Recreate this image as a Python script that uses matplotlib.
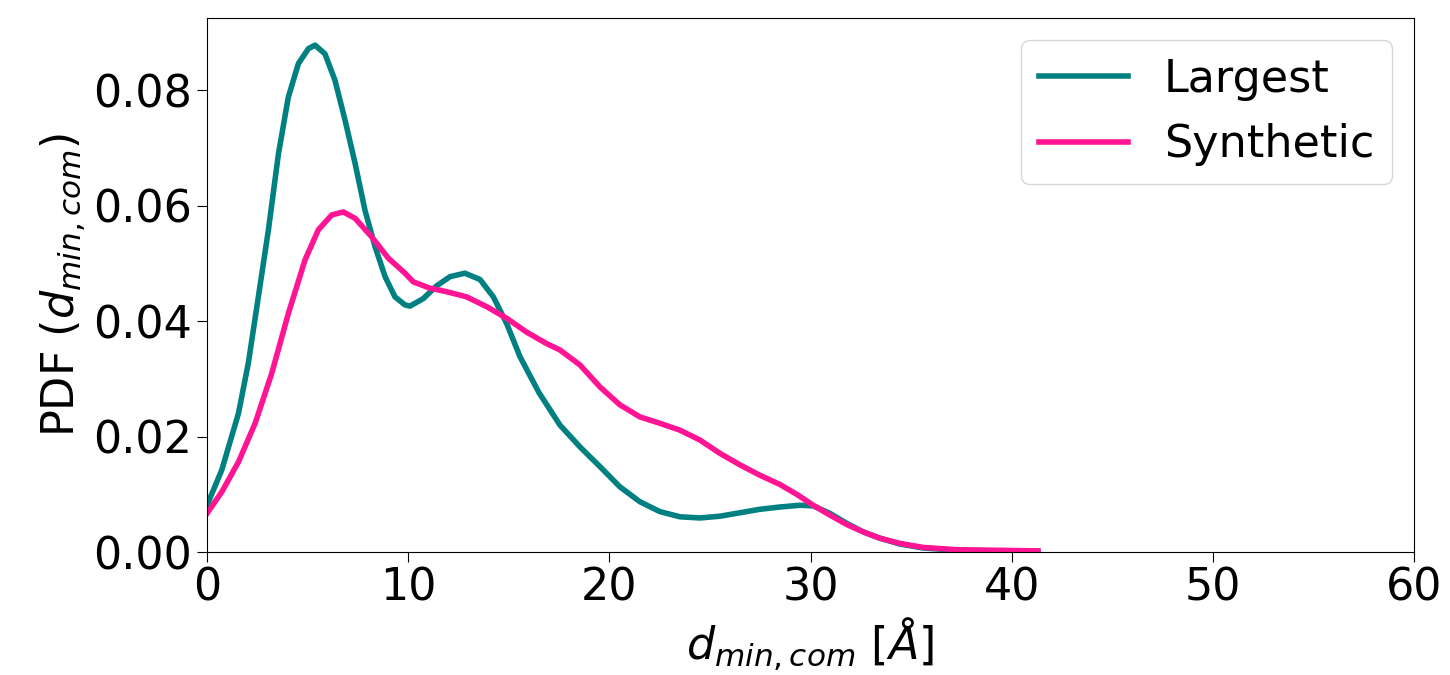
import numpy as np
import matplotlib
matplotlib.use("Agg")
import matplotlib.pyplot as plt

## Values (distance in Angstrom, PDF)
x_largest = [0.0, 0.73, 1.56, 2.05, 2.55, 3.05, 3.55, 4.04, 4.54, 5.04, 5.37, 5.86, 6.36,
             6.86, 7.36, 7.85, 8.35, 8.85, 9.34, 9.84, 10.09, 10.75, 11.41, 12.08, 12.82,
             13.57, 14.23, 14.89, 15.56, 16.5, 17.54, 18.54, 19.53, 20.52, 21.52, 22.51,
             23.51, 24.5, 25.49, 26.49, 27.48, 28.48, 29.47, 30.13, 30.96, 31.78, 32.61,
             33.44, 34.43, 35.59, 37.25, 39.2, 41.3]
y_largest = [0.0081, 0.0142, 0.0240, 0.0327, 0.0442, 0.0558, 0.0690, 0.0788, 0.0846,
             0.0872, 0.0878, 0.0863, 0.0817, 0.0748, 0.0673, 0.0592, 0.0529, 0.0477,
             0.0442, 0.0428, 0.0426, 0.0439, 0.0461, 0.0477, 0.0483, 0.0472, 0.0442,
             0.0396, 0.0338, 0.0276, 0.0220, 0.0182, 0.0148, 0.0113, 0.0087, 0.0070,
             0.0061, 0.0059, 0.0062, 0.0068, 0.0074, 0.0078, 0.0081, 0.0080, 0.0067,
             0.0050, 0.0035, 0.0024, 0.0014, 0.0007, 0.0003, 0.0002, 0.0001]

x_synth = [0.0, 0.73, 1.56, 2.39, 3.21, 4.04, 4.87, 5.53, 6.2, 6.78, 7.36, 8.18, 9.01,
           9.84, 10.25, 11.08, 11.9, 12.9, 13.9, 14.89, 15.88, 16.88, 17.54, 18.54,
           19.53, 20.52, 21.52, 22.51, 23.51, 24.5, 25.49, 26.49, 27.48, 28.48, 29.31,
           30.13, 30.96, 31.78, 32.61, 33.44, 34.43, 35.59, 37.25, 39.2, 41.3]
y_synth = [0.0067, 0.0104, 0.0156, 0.0223, 0.0309, 0.0413, 0.0506, 0.0558, 0.0584,
           0.0589, 0.0578, 0.0546, 0.0509, 0.0483, 0.0468, 0.0457, 0.0451, 0.0442,
           0.0425, 0.0405, 0.0381, 0.0361, 0.0350, 0.0324, 0.0286, 0.0255, 0.0234,
           0.0223, 0.0211, 0.0194, 0.0171, 0.0151, 0.0133, 0.0117, 0.0100, 0.0081,
           0.0064, 0.0048, 0.0035, 0.0024, 0.0015, 0.0008, 0.0004, 0.0003, 0.0002]

labels = ["Largest", "Synthetic"]
colors = ["#008080", "#ff1493"]

## Figure
fig, ax = plt.subplots(figsize=(14.5, 6.75), dpi=100)
fig.subplots_adjust(left=0.1428, right=0.9752, top=0.9733, bottom=0.1822)

for xs, ys, c, lab in zip([x_largest, x_synth], [y_largest, y_synth], colors, labels):
    ax.plot(xs, ys, color=c, lw=4, label=lab, solid_joinstyle="round")

ax.set_xlim(0, 60)
ax.set_ylim(0, 0.0925)
ax.set_yticks([0, 0.02, 0.04, 0.06, 0.08])
ax.tick_params(labelsize=32, length=7)
ax.set_xlabel(r"$d_{min,com}$ [$\AA$]", fontsize=32)
ax.set_ylabel(r"PDF ($d_{min,com}$)", fontsize=32)
ax.legend(fontsize=32, loc="upper right", handlelength=2.0)

fig.savefig("out.png")
